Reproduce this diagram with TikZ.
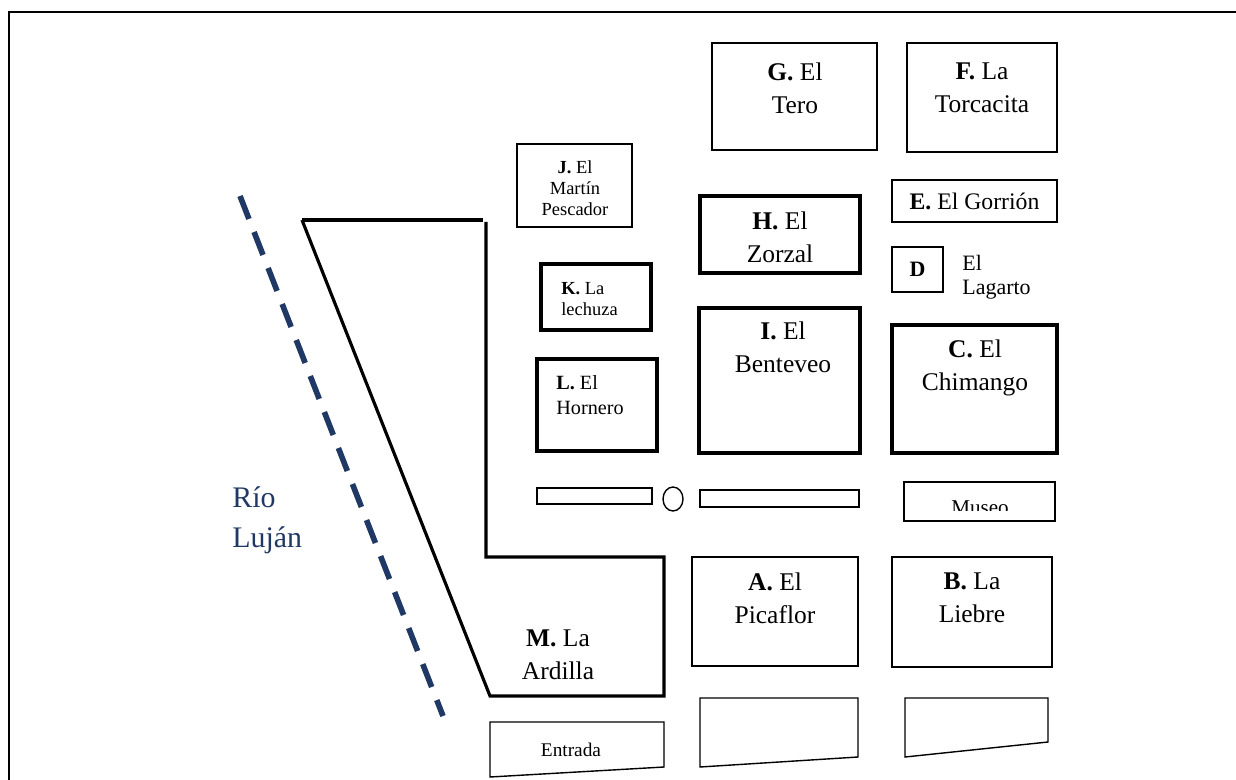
\documentclass[tikz,border=0pt]{standalone}
\usepackage{fontspec}
\setmainfont{Liberation Serif}
\usetikzlibrary{fit}
\definecolor{riverblue}{HTML}{1F3864}
\newcommand{\fbig}{\fontsize{14.5}{18.7}\selectfont}
\newcommand{\fmid}{\fontsize{12.5}{13.5}\selectfont}
\newcommand{\fsmall}{\fontsize{10.5}{12}\selectfont}
\newcommand{\friver}{\fontsize{17}{23}\selectfont}

\tikzset{
  lot/.style={draw, line width=0.8pt, inner sep=0pt},
  lotthick/.style={draw, line width=1.8pt, inner sep=0pt},
  biglbl/.style={font=\fbig, align=center, inner sep=0pt},
  midlbl/.style={font=\fmid, align=center, inner sep=0pt},
  smalllbl/.style={font=\fsmall, align=center, inner sep=0pt},
}

\begin{document}
\begin{tikzpicture}[x=0.02cm, y=-0.02cm]
  \useasboundingbox (0,0) rectangle (1236,780);
  % frame
  \draw[line width=1.2pt] (9,780) -- (9,12) -- (1236,12);

  % river
  \draw[riverblue, line width=3.2pt, dash pattern=on 14pt off 8pt] (240,196) -- (443,716);
  \node[font=\friver, text=riverblue, align=left, anchor=west, inner sep=0pt] (rio) at (232,520) {Río\\Luján};

  % M. La Ardilla outline
  \draw[line width=1.8pt] (302,220) -- (483,220);
  \draw[line width=1.8pt] (486,222) -- (486,557) -- (664,557) -- (664,696) -- (490,696) -- (302,220);
  \node[biglbl] (mlbl) at (558,655) {\textbf{M.} La\\Ardilla};

  % top row
  \node[lot, fit={(712,43) (877,150)}] (g) {};
  \node[biglbl] (glbl) at (795,88) {\textbf{G.} El\\Tero};
  \node[lot, fit={(907,43) (1057,152)}] (f) {};
  \node[biglbl] (flbl) at (982,88) {\textbf{F.} La\\Torcacita};

  % left column
  \node[lot, fit={(517,144) (632,227)}] (j) {};
  \node[smalllbl] (jlbl) at (575,188) {\textbf{J.} El\\Martín\\Pescador};
  \node[lotthick, fit={(541,264) (651,330)}] (k) {};
  \node[smalllbl, align=left, anchor=west] (klbl) at (561,299) {\textbf{K.} La\\lechuza};
  \node[lotthick, fit={(537,359) (657,451)}] (l) {};
  \node[font=\fontsize{11.5}{14}\selectfont, align=left, anchor=west, inner sep=0pt] (llbl) at (556,395) {\textbf{L.} El\\Hornero};

  % middle column
  \node[lotthick, fit={(700,196) (860,273)}] (h) {};
  \node[biglbl] (hlbl) at (780,237) {\textbf{H.} El\\Zorzal};
  \node[lotthick, fit={(699,308) (860,453)}] (i) {};
  \node[biglbl] (ilbl) at (783,347) {\textbf{I.} El\\Benteveo};

  % right column
  \node[lot, fit={(892,180) (1057,222)}] (e) {};
  \node[font=\fontsize{13.5}{15}\selectfont, inner sep=0pt] (elbl) at (e) {\textbf{E.} El Gorrión};
  \node[lot, fit={(892,247) (943,292)}] (d) {};
  \node[midlbl] (dlbl) at (d) {\textbf{D}};
  \node[midlbl, align=left, anchor=west] (lagarto) at (962,277) {El\\Lagarto};
  \node[lotthick, fit={(892,325) (1057,453)}] (c) {};
  \node[biglbl] (clbl) at (975,368) {\textbf{C.} El\\Chimango};

  % walkway
  \node[lot, fit={(537,488) (652,504)}] (bar1) {};
  \draw[line width=0.8pt] (673,499) ellipse [x radius=10, y radius=12];
  \node[lot, fit={(700,490) (859,507)}] (bar2) {};
  \node[lot, fit={(904,482) (1055,521)}] (museo) {};
  \begin{scope}
    \clip (904,482) rectangle (1055,510);
    \node[font=\fontsize{12}{14}\selectfont, anchor=base, inner sep=0pt] (museolbl) at (980,514) {Museo};
  \end{scope}

  % lower row
  \node[lot, fit={(692,557) (858,666)}] (a) {};
  \node[biglbl] (albl) at (775,598) {\textbf{A.} El\\Picaflor};
  \node[lot, fit={(892,557) (1052,667)}] (b) {};
  \node[biglbl] (blbl) at (972,598) {\textbf{B.} La\\Liebre};

  % bottom lots
  \draw[line width=0.8pt] (490,722) -- (664,722) -- (664,767) -- (490,777) -- cycle;
  \node[font=\fontsize{11}{13}\selectfont, inner sep=0pt] (entrada) at (571,750) {Entrada};
  \draw[line width=0.8pt] (700,698) -- (858,698) -- (858,757) -- (700,767) -- cycle;
  \draw[line width=0.8pt] (905,698) -- (1048,698) -- (1048,742) -- (905,757) -- cycle;
\end{tikzpicture}
\end{document}
